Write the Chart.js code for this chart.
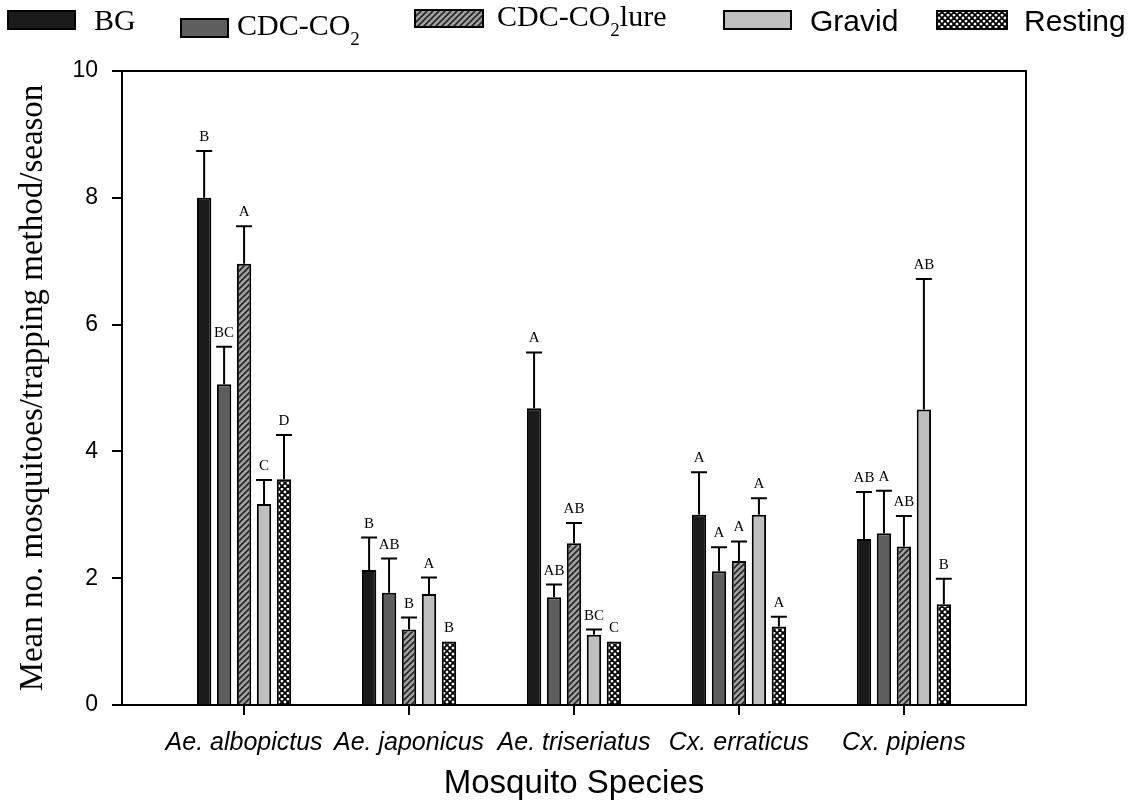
<!DOCTYPE html>
<html>
<head>
<meta charset="utf-8">
<title>Mean mosquitoes per trapping method</title>
<script src="https://cdn.jsdelivr.net/npm/chart.js@4.4.1/dist/chart.umd.min.js"></script>
<style>
    html, body { margin: 0; padding: 0; background: #fff; }
    #wrap { width: 1135px; height: 812px; position: relative; }
</style>
</head>
<body>
<div id="wrap"><canvas id="trapChart"></canvas></div>
<script>
// species on the x axis
const species = ['Ae. albopictus', 'Ae. japonicus', 'Ae. triseriatus', 'Cx. erraticus', 'Cx. pipiens'];
const methodNames = ['BG', 'CDC-CO2', 'CDC-CO2lure', 'Gravid', 'Resting'];

// means, standard errors and letter groups, one array per trapping method
const bgMeans = [8.0, 2.13, 4.68, 3.0, 2.62];
const bgErr = [0.74, 0.51, 0.88, 0.67, 0.74];
const bgLetters = ['B', 'B', 'A', 'A', 'AB'];

const cdcMeans = [5.06, 1.77, 1.70, 2.11, 2.71];
const cdcErr = [0.59, 0.54, 0.20, 0.38, 0.67];
const cdcLetters = ['BC', 'AB', 'AB', 'A', 'A'];

const lureMeans = [6.96, 1.19, 2.55, 2.27, 2.50];
const lureErr = [0.59, 0.19, 0.32, 0.31, 0.48];
const lureLetters = ['A', 'B', 'AB', 'A', 'AB'];

const gravidMeans = [3.17, 1.75, 1.11, 3.0, 4.66];
const gravidErr = [0.38, 0.26, 0.08, 0.26, 2.06];
const gravidLetters = ['C', 'A', 'BC', 'A', 'AB'];

const restingMeans = [3.56, 1.0, 1.0, 1.24, 1.59];
const restingErr = [0.70, 0, 0, 0.15, 0.40];
const restingLetters = ['D', 'B', 'C', 'A', 'B'];

const SERIF = '"Liberation Serif", "Times New Roman", serif';
const SANS = '"Liberation Sans", Arial, sans-serif';

const makePattern = (bg, stroke, width, lines) => {
    const tile = document.createElement('canvas');
    tile.width = 6;
    tile.height = 6;
    const g = tile.getContext('2d');
    g.fillStyle = bg;
    g.fillRect(0, 0, 6, 6);
    g.strokeStyle = stroke;
    g.lineWidth = width;
    lines.forEach(([x1, y1, x2, y2]) => {
        g.beginPath();
        g.moveTo(x1, y1);
        g.lineTo(x2, y2);
        g.stroke();
    });
    return g.createPattern(tile, 'repeat');
};

const slash = [[0, 6, 6, 0], [-3, 3, 3, -3], [3, 9, 9, 3]];
const backslash = [[0, 0, 6, 6], [-3, 3, 3, 9], [3, -3, 9, 3]];

const fills = [
    '#1b1b1b',
    '#5e5e5e',
    makePattern('#a3a3a3', '#262626', 1.7, slash),
    '#bfbfbf',
    makePattern('#ffffff', '#000000', 1.8, slash.concat(backslash))
];

const series = [
    { means: bgMeans, err: bgErr, letters: bgLetters },
    { means: cdcMeans, err: cdcErr, letters: cdcLetters },
    { means: lureMeans, err: lureErr, letters: lureLetters },
    { means: gravidMeans, err: gravidErr, letters: gravidLetters },
    { means: restingMeans, err: restingErr, letters: restingLetters }
];

// legend slots laid out like the original figure
const legendSlots = [
    { x: 8, y: 11, w: 67, h: 18, textX: 94, base: 30, family: SERIF },
    { x: 181, y: 19, w: 47, h: 18, textX: 237, base: 35, family: SERIF },
    { x: 415, y: 10, w: 68, h: 17, textX: 497, base: 26, family: SERIF },
    { x: 724, y: 11, w: 67, h: 18, textX: 810, base: 31, family: SANS },
    { x: 937, y: 11, w: 70, h: 18, textX: 1024, base: 31, family: SANS }
];

const drawLabel = (ctx, text, x, base, family, size) => {
    ctx.font = `${size}px ${family}`;
    const cut = text.indexOf('CO2');
    if (cut < 0) {
        ctx.fillText(text, x, base);
        return;
    }
    const head = text.slice(0, cut + 2);
    const tail = text.slice(cut + 3);
    ctx.fillText(head, x, base);
    let px = x + ctx.measureText(head).width;
    ctx.font = `${Math.round(size * 0.62)}px ${family}`;
    ctx.fillText('2', px, base + size * 0.32);
    px += ctx.measureText('2').width;
    ctx.font = `${size}px ${family}`;
    if (tail) ctx.fillText(tail, px, base);
};

const legendPlugin = {
    id: 'figureLegend',
    afterDraw: (chart) => {
        const ctx = chart.ctx;
        ctx.save();
        ctx.textAlign = 'left';
        ctx.textBaseline = 'alphabetic';
        methodNames.forEach((name, i) => {
            const s = legendSlots[i];
            ctx.fillStyle = fills[i];
            ctx.fillRect(s.x, s.y, s.w, s.h);
            ctx.strokeStyle = '#000';
            ctx.lineWidth = 2;
            ctx.strokeRect(s.x, s.y, s.w, s.h);
            ctx.fillStyle = '#000';
            drawLabel(ctx, name, s.textX, s.base, s.family, 30);
        });
        ctx.restore();
    }
};

const errorBarPlugin = {
    id: 'errorBars',
    afterDatasetsDraw: (chart) => {
        const ctx = chart.ctx;
        const yScale = chart.scales.y;
        ctx.save();
        ctx.strokeStyle = '#000';
        ctx.fillStyle = '#000';
        ctx.lineWidth = 2;
        ctx.font = `15px ${SERIF}`;
        ctx.textAlign = 'center';
        ctx.textBaseline = 'alphabetic';
        chart.data.datasets.forEach((ds, di) => {
            chart.getDatasetMeta(di).data.forEach((bar, i) => {
                const err = ds.errors[i];
                const top = yScale.getPixelForValue(ds.data[i].y + err);
                if (err > 0) {
                    ctx.beginPath();
                    ctx.moveTo(bar.x, bar.y);
                    ctx.lineTo(bar.x, top);
                    ctx.moveTo(bar.x - 8, top);
                    ctx.lineTo(bar.x + 8, top);
                    ctx.stroke();
                }
                ctx.fillText(ds.letters[i], bar.x, top - 10);
            });
        });
        ctx.restore();
    }
};

const framePlugin = {
    id: 'frame',
    afterDraw: (chart) => {
        const { left, top, right, bottom } = chart.chartArea;
        const ctx = chart.ctx;
        ctx.save();
        ctx.strokeStyle = '#000';
        ctx.lineWidth = 2;
        ctx.beginPath();
        ctx.moveTo(left, top);
        ctx.lineTo(right, top);
        ctx.lineTo(right, bottom);
        ctx.stroke();
        ctx.restore();
    }
};

Chart.defaults.font.family = SANS;
Chart.defaults.color = '#000';

new Chart(document.getElementById('trapChart'), {
    type: 'bar',
    data: {
        datasets: series.map((s, i) => ({
            label: methodNames[i],
            data: s.means.map((v, k) => ({ x: k + 1, y: v })),
            errors: s.err,
            letters: s.letters,
            backgroundColor: fills[i],
            borderColor: '#000',
            borderWidth: 2,
            categoryPercentage: 0.605,
            barPercentage: 0.72
        }))
    },
    options: {
        responsive: true,
        maintainAspectRatio: false,
        animation: false,
        layout: { padding: { top: 71, right: 109, left: 0, bottom: 0 } },
        plugins: {
            legend: { display: false },
            tooltip: { enabled: false }
        },
        scales: {
            x: {
                type: 'linear',
                offset: false,
                min: 0.26,
                max: 5.74,
                afterBuildTicks: (scale) => {
                    scale.ticks = species.map((_, i) => ({ value: i + 1 }));
                },
                afterFit: (scale) => { scale.height = 107; },
                ticks: {
                    autoSkip: false,
                    maxRotation: 0,
                    minRotation: 0,
                    padding: 13,
                    font: { size: 25, style: 'italic' },
                    callback: (value) => species[value - 1]
                },
                grid: { offset: false, drawOnChartArea: false, tickLength: 10, color: '#000', lineWidth: 2 },
                border: { color: '#000', width: 2 },
                title: {
                    display: true,
                    text: 'Mosquito Species',
                    font: { size: 33 },
                    padding: { top: 0, bottom: 8 }
                }
            },
            y: {
                min: 0,
                max: 10,
                afterFit: (scale) => { scale.width = 122; },
                ticks: { stepSize: 2, padding: 14, font: { size: 23 } },
                grid: { drawOnChartArea: false, tickLength: 10, color: '#000', lineWidth: 2 },
                border: { color: '#000', width: 2 },
                title: {
                    display: true,
                    text: 'Mean no. mosquitoes/trapping method/season',
                    font: { size: 33, family: SERIF },
                    padding: { top: 14, bottom: 0 }
                }
            }
        }
    },
    plugins: [errorBarPlugin, framePlugin, legendPlugin]
});
</script>
</body>
</html>
